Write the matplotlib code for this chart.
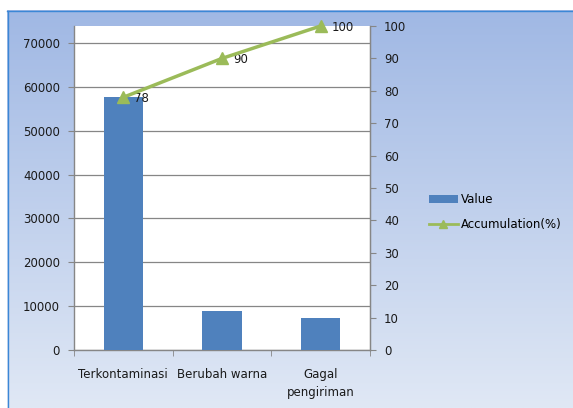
import numpy as np
import matplotlib
matplotlib.use("Agg")
import matplotlib.pyplot as plt
from matplotlib.lines import Line2D
from matplotlib.patches import Patch

categories = ["Terkontaminasi", "Berubah warna", "Gagal\npengiriman"]
values = [57600, 8900, 7400]
accum = [78, 90, 100]
left_ticks = [0, 10000, 20000, 30000, 40000, 50000, 60000, 70000]
right_ticks = [0, 10, 20, 30, 40, 50, 60, 70, 80, 90, 100]

W, H = 573, 408
fig = plt.figure(figsize=(W / 100, H / 100), dpi=100)
fig.patch.set_facecolor("white")

# gradient background
bg = fig.add_axes([7 / W, 0, 1 - 7 / W, 1 - 10 / H], zorder=-5)
top = np.array([160, 184, 228]) / 255
bot = np.array([224, 232, 245]) / 255
t = np.linspace(0, 1, 256)[:, None]
grad = (top[None, :] * (1 - t) + bot[None, :] * t)
grad = np.repeat(grad[:, None, :], 2, axis=1)
bg.imshow(grad, aspect="auto", extent=[0, 1, 0, 1])
bg.set_xlim(0, 1); bg.set_ylim(0, 1)
bg.axis("off")
# border lines
fig.add_artist(Line2D([7 / W, 1], [1 - 10.5 / H, 1 - 10.5 / H], color="#3b87d6", lw=1.0))
fig.add_artist(Line2D([7.5 / W, 7.5 / W], [0, 1 - 10.5 / H], color="#3b87d6", lw=1.0))

L, R, T, B = 74, 370, 26, 350
ax = fig.add_axes([L / W, (H - B) / H, (R - L) / W, (B - T) / H])
ax.set_facecolor("white")
x = np.arange(len(categories))
total = sum(values)
ax.bar(x, values, width=0.4, color="#4f81bd", zorder=3)
ax.set_xlim(-0.5, len(categories) - 0.5)
ax.set_ylim(0, total)
ax.set_yticks(left_ticks)
ax.yaxis.grid(True, color="#868686", lw=0.9, zorder=0)
ax.set_xticks(x)
ax.set_xticklabels(categories, fontsize=8.5, color="#1a1a1a", linespacing=1.45)
ax.tick_params(axis="x", length=0, pad=13)
ax.set_xticks([-0.5, 0.5, 1.5, 2.5], minor=True)
ax.tick_params(axis="x", which="minor", length=4, color="#868686", direction="out")
ax.tick_params(axis="y", labelsize=8.5, colors="#868686", labelcolor="#1a1a1a", length=4, pad=6)
ax.spines["top"].set_visible(False)
for s in ["left", "right", "bottom"]:
    ax.spines[s].set_color("#868686")
    ax.spines[s].set_linewidth(1.0)

ax2 = ax.twinx()
ax2.plot(x, accum, color="#9bbb59", lw=2.5, marker="^", markersize=8,
         markeredgecolor="#9bbb59", zorder=5, clip_on=False)
ax2.set_ylim(0, 100)
ax2.set_yticks(right_ticks)
ax2.tick_params(axis="y", labelsize=8.5, colors="#868686", labelcolor="#1a1a1a", length=4, pad=6)
for s in ["top", "left", "bottom"]:
    ax2.spines[s].set_visible(False)
ax2.spines["right"].set_color("#868686")
for xi, a in zip(x, accum):
    ax2.annotate(str(a), (xi, a), xytext=(8, -1), textcoords="offset points",
                 fontsize=8.5, color="#1a1a1a", va="center", ha="left", annotation_clip=False)

handles = [Patch(facecolor="#4f81bd", edgecolor="none"),
           Line2D([], [], color="#9bbb59", lw=2, marker="^", markersize=6)]
fig.legend(handles, ["Value", "Accumulation(%)"], loc="center left",
           bbox_to_anchor=(418 / W, 1 - 212 / H), frameon=False, fontsize=8.5,
           handlelength=2.5, handletextpad=0.2, labelspacing=1.0)

fig.savefig("out.png", dpi=100)
